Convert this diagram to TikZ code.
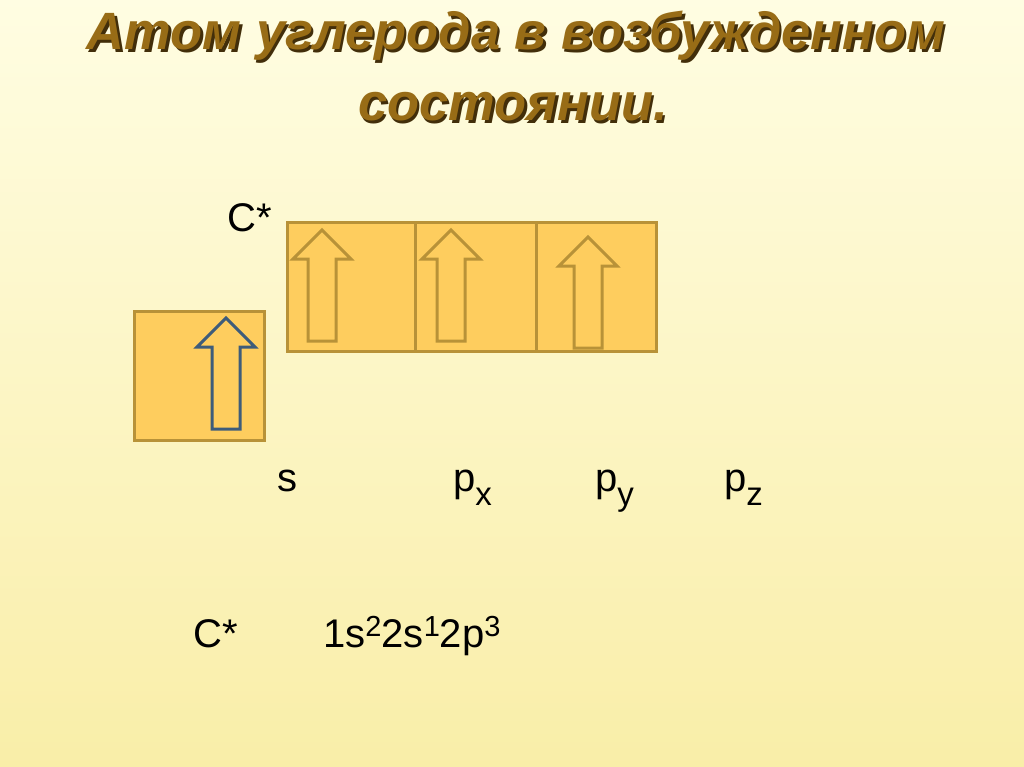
\documentclass[tikz,border=0pt]{standalone}
\usepackage{fontspec}
\setmainfont{Liberation Sans}
\usetikzlibrary{positioning}
\definecolor{bgtop}{RGB}{255,253,226}
\definecolor{bgbot}{RGB}{249,238,168}
\definecolor{orbfill}{RGB}{254,205,94}
\definecolor{orbline}{RGB}{184,146,56}
\definecolor{spinblue}{RGB}{62,92,122}
\definecolor{titlebrown}{RGB}{152,108,22}
\definecolor{titleshade}{RGB}{66,46,10}
\tikzset{
    x=1pt, y=-1pt,
    orbital/.style={
        draw=orbline,
        fill=orbfill,
        line width=3pt,
        inner sep=0pt,
        minimum height=129pt
    },
    lvl/.style={
        inner sep=0pt,
        font=\fontsize{40}{40}\selectfont
    },
    headline/.style={
        inner sep=0pt,
        anchor=base,
        text=titlebrown,
        font=\fontsize{52.5}{52.5}\selectfont\bfseries\itshape
    },
    spin/.pic={
        \draw[pic actions] (0,0) -- (29,29) -- (14,29) -- (14,111)
            -- (-14,111) -- (-14,29) -- (-29,29) -- cycle;
    }
}
\newcommand{\lowidx}[1]{\raisebox{-14pt}{\fontsize{33}{33}\selectfont #1}}
\newcommand{\highidx}[1]{\raisebox{11pt}{\fontsize{29}{29}\selectfont #1}}
\newcommand{\shadowed}[1]{\rlap{\hspace{2.5pt}\raisebox{-2.5pt}{\color{titleshade}#1}}#1}

\begin{document}
\begin{tikzpicture}
	\useasboundingbox (0,0) rectangle (1024,767);
	\shade[top color=bgtop, bottom color=bgbot] (0,0) rectangle (1024,767);
	% title
	\node[headline] (t1) at (516,50) {\shadowed{Атом углерода в возбужденном}};
	\node[headline] (t2) at (513,121) {\shadowed{состоянии.}};
	% cells
	\node[orbital, minimum width=130pt] (s) at (199,375.5) {};
	\node[orbital, minimum width=128pt] (px) at (351,287) {};
	\node[orbital, minimum width=121pt] (py) at (475.5,287) {};
	\node[orbital, minimum width=120pt] (pz) at (596,287) {};
	% electrons
	\pic[draw=spinblue, line width=3pt] at (226,318) {spin};
	\pic[draw=orbline, line width=3pt] at (322,230) {spin};
	\pic[draw=orbline, line width=3pt] at (451,230) {spin};
	\pic[draw=orbline, line width=3pt] at (588,237) {spin};
	% labels
	\node[lvl, anchor=base west] (cstar) at (227,232) {C*};
	\node[lvl, anchor=base west] (ls) at (277,491) {s};
	\node[lvl, anchor=base west] (lpx) at (453,491) {p\lowidx{x}};
	\node[lvl, anchor=base west] (lpy) at (595,491) {p\lowidx{y}};
	\node[lvl, anchor=base west] (lpz) at (724,491) {p\lowidx{z}};
	\node[lvl, anchor=base west] (c2) at (193,647) {C*};
	\node[lvl, anchor=base west] (conf) at (323,647) {1s\highidx{2}2s\highidx{1}2p\highidx{3}};
\end{tikzpicture}
\end{document}
